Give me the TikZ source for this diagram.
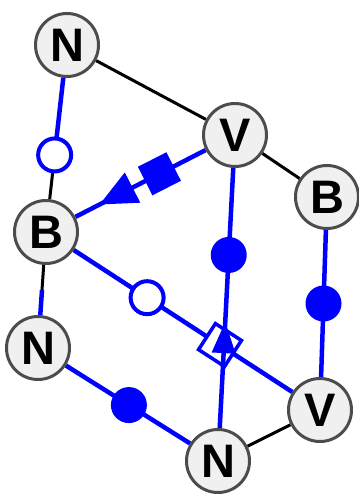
\documentclass[tikz,border=0pt]{standalone}
\usepackage{fontspec}
\setsansfont{Liberation Sans}
\usetikzlibrary{calc,backgrounds}
\begin{document}
\begin{tikzpicture}[x=1pt,y=-1pt,
  vtx/.style={circle,draw=black!70,line width=3pt,fill=black!6,minimum size=63pt,inner sep=0pt,font=\sffamily\bfseries\fontsize{47}{47}\selectfont},
  blk/.style={line width=3pt,black},
  blu/.style={line width=4.5pt,blue},
  odot/.style={circle,draw=blue,line width=4pt,fill=white,minimum size=33pt,inner sep=0pt},
  fdot/.style={circle,fill=blue,minimum size=36pt,inner sep=0pt},
  osq/.style={rectangle,draw=blue,line width=3.5pt,fill=white,minimum size=31pt,inner sep=0pt},
  fsq/.style={rectangle,fill=blue,minimum size=32pt,inner sep=0pt},
  ftri/.style={fill=blue}]
\useasboundingbox (0,0) rectangle (358,494);
% vertices
\node[vtx] (N1) at (67,45) {N};
\node[vtx] (V1) at (235,135) {V};
\node[vtx] (Br) at (327,197) {B};
\node[vtx] (Bl) at (46,232) {B};
\node[vtx] (N2) at (38,348) {N};
\node[vtx] (V2) at (320,410) {V};
\node[vtx] (N3) at (218,461) {N};
\begin{scope}[on background layer]
  % black edges
  \draw[blk] (N1) -- (V1);
  \draw[blk] (V1) -- (Br);
  \draw[blk] (N3) -- (V2);
  \draw[blk] (N1) -- (Bl);
  \draw[blk] (Bl) -- (N2);
  % blue edges
  \coordinate (c1) at ($(N1.center)!0.588!(Bl.center)$);
  \draw[blu] (N1) -- (c1);
  \node[odot] (o1) at (c1) {};
  \coordinate (c2) at ($(Bl.center)!0.5!(N2.center)$);
  \draw[blu] (c2) -- (N2);
  % Bl -- V1 with arrow and filled square
  \draw[blu] (Bl) -- (V1);
  \node[fsq,rotate=27] (s1) at ($(Bl.center)!0.6!(V1.center)$) {};
  \coordinate (t1a) at ($(Bl.center)!0.284!(V1.center)$);
  \coordinate (t1b) at ($(Bl.center)!0.458!(V1.center)$);
  \fill[ftri] (t1a) -- ($(t1b)!17pt!90:(V1.center)$) -- ($(t1b)!17pt!-90:(V1.center)$) -- cycle;
  % Bl -- V2 with open circle and open square
  \draw[blu] (Bl) -- (V2);
  \node[odot] (o2) at ($(Bl.center)!0.369!(V2.center)$) {};
  \node[osq,rotate=-33] (s2) at ($(Bl.center)!0.635!(V2.center)$) {};
  % V1 -- N3 with filled dot and triangle
  \draw[blu] (V1) -- (N3);
  \node[fdot] (d1) at ($(V1.center)!0.368!(N3.center)$) {};
  \coordinate (t2a) at ($(V1.center)!0.574!(N3.center)$);
  \coordinate (t2b) at ($(V1.center)!0.669!(N3.center)$);
  \fill[ftri] (t2a) -- ($(t2b)!12pt!90:(N3.center)$) -- ($(t2b)!12pt!-90:(N3.center)$) -- cycle;
  % Br -- V2
  \draw[blu] (Br) -- (V2);
  \node[fdot] (d2) at ($(Br.center)!0.5!(V2.center)$) {};
  % N2 -- N3
  \draw[blu] (N2) -- (N3);
  \node[fdot] (d3) at ($(N2.center)!0.505!(N3.center)$) {};
\end{scope}
\end{tikzpicture}
\end{document}
